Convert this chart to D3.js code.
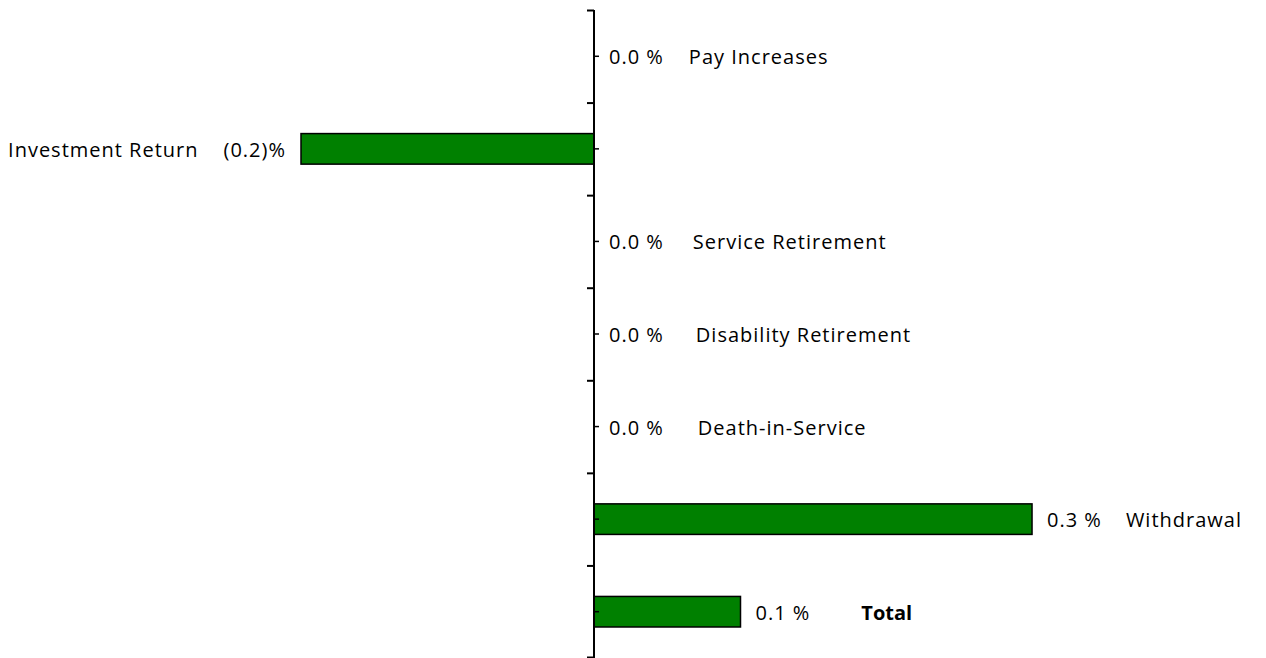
<!DOCTYPE html>
<html>
<head>
<meta charset="utf-8">
<script src="https://cdnjs.cloudflare.com/ajax/libs/d3/7.8.5/d3.min.js"></script>
<style>
  body { margin: 0; background: #fff; }
  text { font-family: "Open Sans", sans-serif; font-size: 20px; letter-spacing: 1px; fill: #000; }
</style>
</head>
<body>
<div class="container"></div>
<script>
// the data
var categories = ["Pay Increases", "Investment Return", "Service Retirement", "Disability Retirement", "Death-in-Service", "Withdrawal", "Total"];
var values = [0.0, -0.2, 0.0, 0.0, 0.0, 0.299, 0.1]; // percent
var valueLabels = ["0.0 %", "(0.2)%", "0.0 %", "0.0 %", "0.0 %", "0.3 %", "0.1 %"];
// gap between value label and category name (the Excel labels are a bit all over the place)
var nameGap = [25, 25, 29, 32, 34, 24, 51];

var W = 1266, H = 658;

function makeStage(w, h) {
	var stage = d3.select(".container")
	.insert("svg")
	.attr("width", w)
	.attr("height", h);
	return stage;
}

var svg = makeStage(W, H);

var rows = categories.map(function(c, i) { return {name: c, v: values[i], label: valueLabels[i], gap: nameGap[i]}; });

var y = d3.scaleBand()
	.domain(categories)
	.range([10, 658])
	.paddingInner(0.67)
	.paddingOuter(0.335);

var yb = d3.scaleBand().domain(categories).range([10, 658]); // full bands for ticks

var x = d3.scaleLinear()
	.domain([0, 0.1])
	.range([594, 740.5]);

// bars (zero rows get no bar)
svg.selectAll("rect.bar")
	.data(rows.filter(function(d) { return d.v != 0; }))
	.enter()
	.append("rect")
	.attr("class", "bar")
	.attr("x", function(d) { return x(Math.min(0, d.v)); })
	.attr("y", function(d) { return y(d.name); })
	.attr("width", function(d) { return Math.abs(x(d.v) - x(0)); })
	.attr("height", y.bandwidth())
	.style("fill", "#008000")
	.style("stroke", "#000")
	.style("stroke-width", "1.5px");

// axis line at zero with the two sets of ticks
var ax = svg.append("g");
ax.append("line")
	.attr("x1", x(0)).attr("x2", x(0))
	.attr("y1", 10).attr("y2", 658)
	.style("stroke", "#000").style("stroke-width", "2px");

// boundary ticks go out to the left
var bounds = categories.map(function(c) { return yb(c); }).concat([657]);
ax.selectAll("line.major")
	.data(bounds)
	.enter()
	.append("line")
	.attr("class", "major")
	.attr("x1", x(0) - 7).attr("x2", x(0))
	.attr("y1", function(d) { return d + 0.5; }).attr("y2", function(d) { return d + 0.5; })
	.style("stroke", "#000").style("stroke-width", "2px");

// small ticks in the middle of each band, to the right
ax.selectAll("line.minor")
	.data(categories)
	.enter()
	.append("line")
	.attr("class", "minor")
	.attr("x1", x(0)).attr("x2", x(0) + 5)
	.attr("y1", function(d) { return yb(d) + yb.bandwidth() / 2; })
	.attr("y2", function(d) { return yb(d) + yb.bandwidth() / 2; })
	.style("stroke", "#000").style("stroke-width", "1.5px");

// value labels + names
rows.forEach(function(d) {
	var cy = yb(d.name) + yb.bandwidth() / 2;
	var neg = d.v < 0;
	var lx = neg ? x(d.v) - 15 : x(d.v) + 15;
	var vl = svg.append("text")
		.attr("x", lx)
		.attr("y", cy)
		.attr("dy", "0.4em")
		.attr("text-anchor", neg ? "end" : "start")
		.text(d.label);
	var bb = vl.node().getBBox();
	var nx = neg ? bb.x - d.gap : bb.x + bb.width + d.gap;
	svg.append("text")
		.attr("x", nx)
		.attr("y", cy)
		.attr("dy", "0.4em")
		.attr("text-anchor", neg ? "end" : "start")
		.style("font-weight", d.name == "Total" ? "bold" : "normal")
		.style("letter-spacing", d.name == "Total" ? "0px" : null)
		.text(d.name);
});
</script>
</body>
</html>
